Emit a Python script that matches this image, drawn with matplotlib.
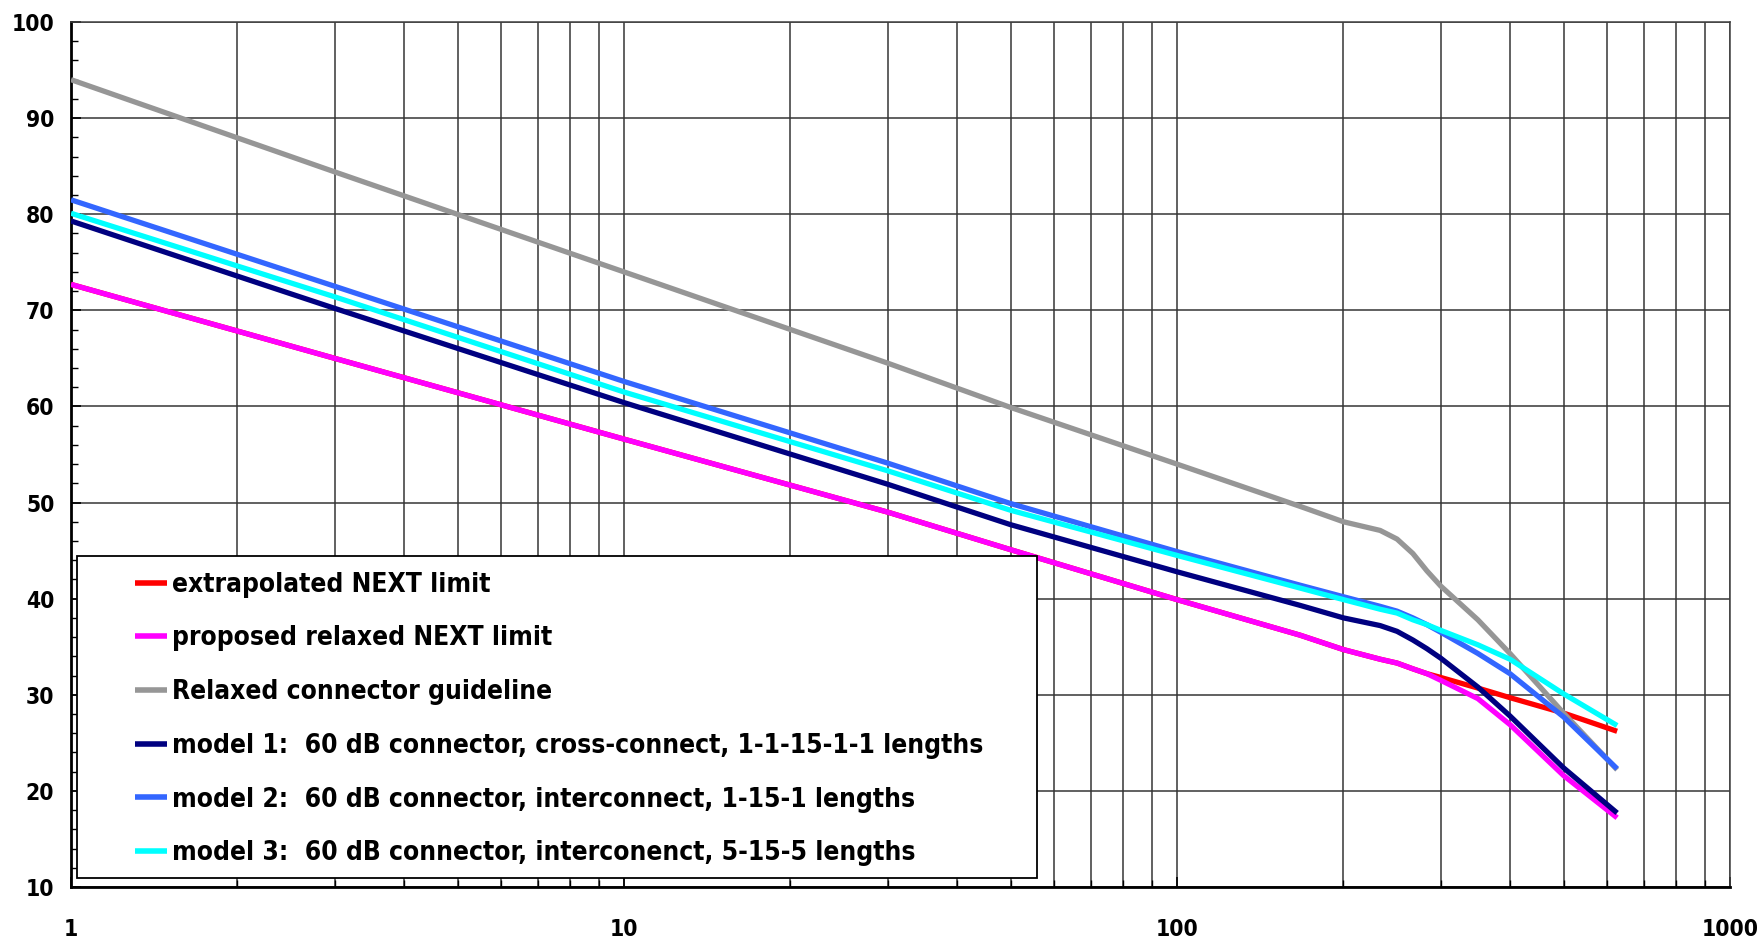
import os
import numpy as np
import matplotlib
matplotlib.use("Agg")
import matplotlib.pyplot as plt
from matplotlib import font_manager
from matplotlib.font_manager import FontProperties
from matplotlib.patches import Rectangle
from matplotlib.ticker import FixedLocator, NullFormatter, FixedFormatter

# frequency (MHz) and NEXT (dB)
freq = [1, 3, 10, 30, 50, 100, 167, 200, 233, 250, 267, 283, 300, 350, 400, 500, 625]
ext_next = [72.7, 65.0, 56.6, 49.0, 45.1, 39.9, 36.2, 34.7, 33.7, 33.3, 32.7, 32.2, 31.8, 30.7, 29.7, 28.1, 26.2]
relaxed_next = [72.7, 65.0, 56.6, 49.0, 45.1, 39.9, 36.2, 34.7, 33.7, 33.3, 32.7, 32.2, 31.5, 29.6, 26.9, 21.6, 17.2]
guideline = [94.0, 84.4, 74.0, 64.5, 59.9, 54.0, 49.6, 48.0, 47.1, 46.2, 44.7, 42.9, 41.3, 37.8, 34.3, 28.1, 22.2]
model1 = [79.3, 70.2, 60.4, 51.9, 47.7, 42.8, 39.3, 38.0, 37.2, 36.6, 35.7, 34.8, 33.8, 30.8, 27.8, 22.4, 17.7]
model2 = [81.5, 72.5, 62.6, 54.1, 49.9, 44.9, 41.4, 40.2, 39.2, 38.7, 38.0, 37.3, 36.5, 34.3, 32.2, 27.7, 22.3]
model3 = [80.1, 71.4, 61.5, 53.3, 49.2, 44.5, 41.1, 39.9, 38.9, 38.5, 37.8, 37.3, 36.7, 35.2, 33.7, 30.1, 26.8]

series = [
    ("extrapolated NEXT limit", ext_next, "#FF0000"),
    ("proposed relaxed NEXT limit", relaxed_next, "#FF00FF"),
    ("Relaxed connector guideline", guideline, "#969696"),
    ("model 1:  60 dB connector, cross-connect, 1-1-15-1-1 lengths", model1, "#000080"),
    ("model 2:  60 dB connector, interconnect, 1-15-1 lengths", model2, "#3366FF"),
    ("model 3:  60 dB connector, interconenct, 5-15-5 lengths", model3, "#00FFFF"),
]

# look for a narrow bold face (the original uses Arial Narrow Bold)
wanted = ['liberationsansnarrow-bold.ttf', 'arialnarrow-bold.ttf', 'arialnb.ttf',
          'dejavusanscondensed-bold.ttf', 'robotocondensed-bold.ttf',
          'opensans_condensed-bold.ttf', 'opensans-condensedbold.ttf']
files = {os.path.basename(f.fname).lower(): f.fname for f in font_manager.fontManager.ttflist}
fpath = None
for w in wanted:
    if w in files:
        fpath = files[w]
        break
if fpath:
    fp = FontProperties(fname=fpath)
else:
    fp = FontProperties(family=['Liberation Sans', 'DejaVu Sans'], weight='bold')

W, H = 1762, 946
fig = plt.figure(figsize=(W / 100, H / 100), dpi=100)
renderer = fig.canvas.get_renderer()


def text_width(s, size):
    t = fig.text(0, 0, s, fontproperties=fp, size=size)
    w = t.get_window_extent(renderer).width
    t.remove()
    return w


# size the texts so their widths match the original
leg_size = 20 * 814 / text_width(series[3][0], 20)
tick_size = 20 * 43 / text_width('100', 20)

ax = fig.add_axes([71 / W, 1 - 887 / H, (1730 - 71) / W, (887 - 22) / H])

for label, vals, col in series:
    ax.plot(freq, vals, color=col, lw=3.8, label=label, solid_capstyle='butt', zorder=3)

ax.set_xscale('log')
ax.set_xlim(1, 1000)
ax.set_ylim(10, 100)

ax.xaxis.set_major_locator(FixedLocator([1, 10, 100, 1000]))
ax.xaxis.set_major_formatter(FixedFormatter(['1', '10', '100', '1000']))
minors = [m * d for d in [1, 10, 100] for m in range(2, 10)]
ax.xaxis.set_minor_locator(FixedLocator(minors))
ax.xaxis.set_minor_formatter(NullFormatter())
ax.set_yticks(np.arange(10, 101, 10))
ax.set_yticks(np.arange(10, 101, 2), minor=True)

ax.grid(True, which='major', axis='both', color='#353535', lw=1.1)
ax.grid(True, which='minor', axis='x', color='#353535', lw=1.1)
ax.set_axisbelow(True)

ax.tick_params(axis='both', which='major', direction='in', length=7, width=1.2, colors='black')
ax.tick_params(axis='both', which='minor', direction='in', length=5, width=1.0)
ax.tick_params(axis='x', which='major', pad=22)
ax.tick_params(axis='y', which='major', pad=12)
for t in ax.get_xticklabels() + ax.get_yticklabels():
    t.set_fontproperties(fp)
    t.set_fontsize(tick_size)

ax.spines['left'].set_linewidth(2)
ax.spines['bottom'].set_linewidth(2)
for s in ['top', 'right']:
    ax.spines[s].set_color('#404040')
    ax.spines[s].set_linewidth(1.1)

# legend box
box = Rectangle((77 / W, 1 - 878 / H), (1037 - 77) / W, (878 - 556) / H,
                transform=fig.transFigure, facecolor='white', edgecolor='black',
                lw=1.3, zorder=5)
ax.add_artist(box)
box.set_clip_on(False)

row_px = 58.5
lsp = row_px / (leg_size * 100 / 72) - 1.17
leg_prop = fp.copy()
leg_prop.set_size(leg_size)
leg = ax.legend(loc='center left', bbox_to_anchor=(135 / W, 1 - 719 / H),
                bbox_transform=fig.transFigure, frameon=False, prop=leg_prop,
                handlelength=32 / (leg_size * 100 / 72),
                handletextpad=5 / (leg_size * 100 / 72),
                labelspacing=lsp, borderpad=0, borderaxespad=0)
leg.set_zorder(6)
for line in leg.get_lines():
    line.set_linewidth(4)

fig.savefig('out.png', dpi=100)
